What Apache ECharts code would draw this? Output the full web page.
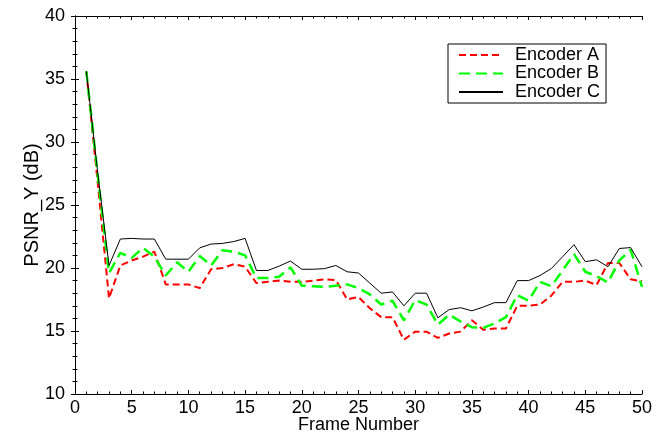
<!DOCTYPE html>
<html>
<head>
<meta charset="utf-8">
<script src="https://cdn.jsdelivr.net/npm/echarts@6/dist/echarts.min.js"></script>
<style>
html,body{margin:0;padding:0;background:#fff;}
#c{width:667px;height:435px;}
</style>
</head>
<body>
<div id="c"></div>
<script>
const frames = [];
for (let i = 1; i <= 50; i++) frames.push(i);
const encoderA = [35.6,26.8,17.6,20.2,20.6,20.9,21.3,18.7,18.7,18.7,
  18.4,19.9,20.0,20.3,20.1,18.8,18.9,19.0,18.9,18.9,
  19.0,19.1,19.05,17.5,17.7,16.8,16.1,16.1,14.3,14.95,
  14.95,14.45,14.8,14.95,15.85,15.1,15.2,15.2,17.0,17.0,
  17.1,17.8,18.9,18.9,19.0,18.65,20.4,20.4,19.1,18.95];
const encoderB = [35.6,27.4,19.6,21.2,20.8,21.6,20.9,19.4,20.45,19.7,
  20.95,20.2,21.4,21.3,21.0,19.2,19.2,19.3,20.05,18.6,
  18.55,18.5,18.6,18.7,18.4,17.9,17.1,17.4,15.85,17.45,
  17.1,15.5,16.3,15.75,15.3,15.25,15.6,16.1,17.85,17.4,
  18.9,18.55,19.8,21.1,19.7,19.35,18.85,20.6,21.45,18.5];
const encoderC = [35.6,27.6,20.2,22.3,22.35,22.3,22.3,20.7,20.7,20.7,
  21.6,21.9,21.95,22.1,22.35,19.8,19.8,20.15,20.55,19.9,
  19.9,19.95,20.2,19.7,19.6,18.8,18.0,18.1,17.0,18.0,
  18.0,16.05,16.7,16.85,16.6,16.9,17.25,17.25,19.0,19.0,
  19.4,19.95,20.9,21.85,20.5,20.65,20.1,21.55,21.62,20.1];
const seriesNames = ['Encoder A','Encoder B','Encoder C'];

const FONT = 'Liberation Sans, Arial, sans-serif';
function pairs(vals){ return frames.map((f,i)=>[f, vals[i]]); }

const tickCommon = {
  axisLine:{show:true, lineStyle:{color:'#000', width:1}},
  axisTick:{show:true, inside:true, length:4, lineStyle:{color:'#000'}},
  minorTick:{show:true, splitNumber:5, length:2.5, lineStyle:{color:'#000'}},
  splitLine:{show:false}
};

const chart = echarts.init(document.getElementById('c'), null, {renderer:'canvas'});
chart.setOption({
  backgroundColor:'#fff',
  animation:false,
  textStyle:{fontFamily:FONT},
  grid:{left:75, right:25, top:16, bottom:41, containLabel:false, outerBoundsMode:'none'},
  legend:{
    orient:'vertical', left:448, top:44,
    padding:[2,6,2,10],
    itemWidth:44, itemHeight:14, itemGap:0.5,
    backgroundColor:'#fff', borderColor:'#000', borderWidth:1, borderRadius:0,
    itemStyle:{opacity:0},
    textStyle:{fontFamily:FONT, fontSize:18, color:'#000', padding:[0,0,0,7]},
    data:seriesNames
  },
  xAxis:[
    Object.assign({type:'value', min:0, max:50, interval:5, position:'bottom',
      name:'Frame Number', nameLocation:'middle', nameGap:22, nameMoveOverlap:false,
      nameTextStyle:{fontFamily:FONT, fontSize:18, lineHeight:18, color:'#000'},
      axisLabel:{fontFamily:FONT, fontSize:18, color:'#000', margin:5}}, tickCommon),
    Object.assign({type:'value', min:0, max:50, interval:5, position:'top',
      axisLabel:{show:false}}, tickCommon)
  ],
  yAxis:[
    Object.assign({type:'value', min:10, max:40, interval:5, position:'left',
      name:'PSNR_Y (dB)', nameLocation:'middle', nameGap:33, nameRotate:90, nameMoveOverlap:false,
      nameTextStyle:{fontFamily:FONT, fontSize:20, lineHeight:20, color:'#000'},
      axisLabel:{fontFamily:FONT, fontSize:18, color:'#000', margin:10}}, tickCommon),
    Object.assign({type:'value', min:10, max:40, interval:5, position:'right',
      axisLabel:{show:false}}, tickCommon)
  ],
  series:[
    {name:seriesNames[0], type:'line', data:pairs(encoderA), symbol:'none', showSymbol:false,
      color:'#ff0000', lineStyle:{color:'#ff0000', width:2, type:[7,4]}, z:2},
    {name:seriesNames[1], type:'line', data:pairs(encoderB), symbol:'none', showSymbol:false,
      color:'#00ff00', lineStyle:{color:'#00ff00', width:2.5, type:[11,6]}, z:3},
    {name:seriesNames[2], type:'line', data:pairs(encoderC), symbol:'none', showSymbol:false,
      color:'#000000', lineStyle:{color:'#000000', width:1}, z:4}
  ]
});
</script>
</body>
</html>
